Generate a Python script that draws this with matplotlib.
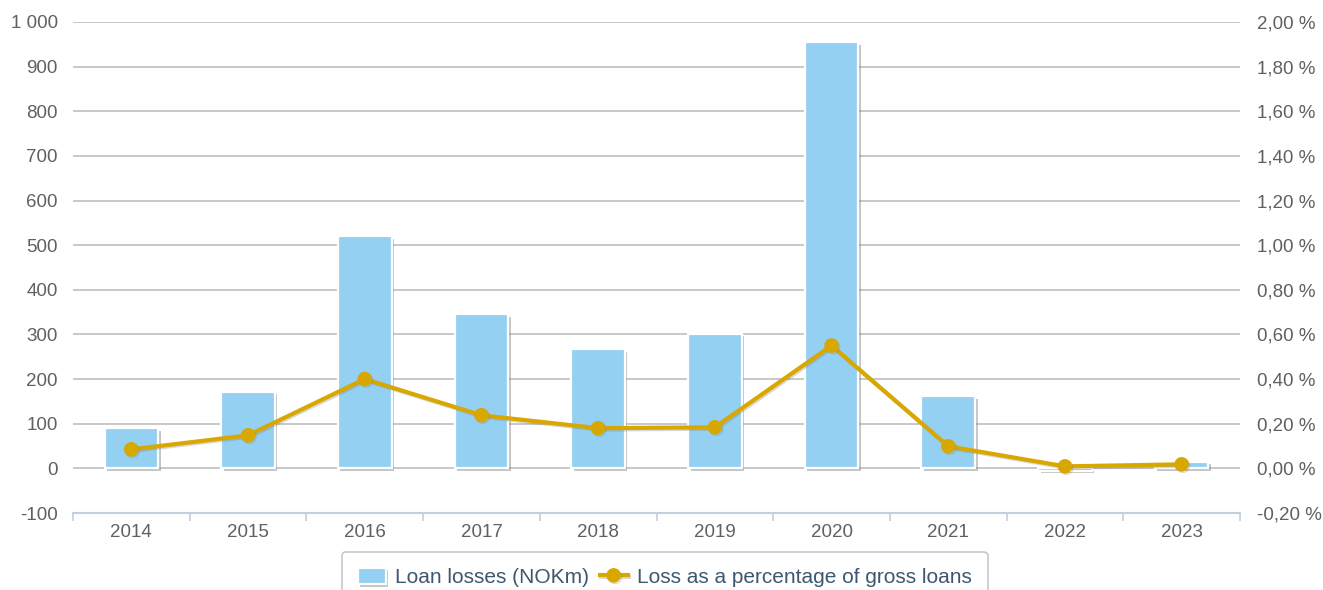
import matplotlib
matplotlib.use("Agg")
import matplotlib.pyplot as plt
import matplotlib.patheffects as pe
from matplotlib.ticker import FixedLocator, FuncFormatter
import numpy as np

plt.rcParams['font.family'] = ['Liberation Sans', 'DejaVu Sans']

# Loan losses per year and as a share of gross loans
years = ['2014', '2015', '2016', '2017', '2018', '2019', '2020', '2021', '2022', '2023']
loan_losses = [90, 172, 520, 345, 267, 302, 955, 162, -5, 15]
loss_pct = [0.085, 0.148, 0.40, 0.238, 0.18, 0.184, 0.55, 0.099, 0.009, 0.018]

bar_color = '#93d0f2'
line_color = '#d9a800'
grid_color = '#c4c4c4'
axis_color = '#c0d0e0'
label_color = '#606060'

fig = plt.figure(figsize=(13.23, 5.90), dpi=100)
ax = fig.add_axes([73 / 1323, 1 - 513 / 590, (1240 - 73) / 1323, (513 - 22) / 590])
x = np.arange(len(years))

# Bars with white outline and a soft drop shadow
bars = ax.bar(x, loan_losses, width=0.46, color=bar_color, edgecolor='white',
              linewidth=1.6, zorder=3, label='Loan losses (NOKm)')
for b in bars:
    b.set_path_effects([pe.SimplePatchShadow(offset=(1.8, -1.8), shadow_rgbFace='#707070', alpha=0.4),
                        pe.Normal()])

ax.set_xlim(-0.5, len(years) - 0.5)
ax.set_ylim(-100, 1000)
ax.set_yticks(np.arange(-100, 1001, 100))
ax.yaxis.set_major_formatter(FuncFormatter(lambda v, p: f"{int(v):,}".replace(',', ' ')))
ax.grid(axis='y', color=grid_color, linewidth=1.3, zorder=0)
ax.set_axisbelow(True)

for s in ['top', 'left', 'right']:
    ax.spines[s].set_visible(False)
ax.spines['bottom'].set_color(axis_color)
ax.spines['bottom'].set_linewidth(1.5)

ax.set_xticks(x)
ax.set_xticklabels(years)
ax.xaxis.set_minor_locator(FixedLocator(np.arange(-0.5, len(years), 1.0)))
ax.tick_params(axis='x', which='major', length=0, pad=8, labelsize=13.5, labelcolor=label_color)
ax.tick_params(axis='x', which='minor', length=6, width=1.2, color=axis_color)
ax.tick_params(axis='y', length=0, pad=11, labelsize=13.5, labelcolor=label_color)

# Percentage line on the right-hand axis
ax2 = ax.twinx()
ax2.set_ylim(-0.2, 2.0)
ax2.set_yticks(np.arange(-0.2, 2.01, 0.2))
ax2.yaxis.set_major_formatter(FuncFormatter(lambda v, p: f"{v:.2f} %".replace('.', ',')))
ax2.tick_params(axis='y', length=0, pad=12, labelsize=13.5, labelcolor=label_color)
for s in ax2.spines.values():
    s.set_visible(False)
ax2.plot(x, loss_pct, color=line_color, linewidth=3, marker='o', markersize=9.5,
         label='Loss as a percentage of gross loans', zorder=4,
         path_effects=[pe.SimpleLineShadow(offset=(1, -1), shadow_color='#808080', alpha=0.3),
                       pe.Normal()])

handles = [bars, ax2.get_lines()[0]]
leg = fig.legend(handles, [h.get_label() for h in handles], loc='upper center',
                 bbox_to_anchor=(0.5025, 1 - 552 / 590), ncol=2, frameon=True,
                 fancybox=True, edgecolor='#c8c8c8', framealpha=1, fontsize=15,
                 handlelength=1.35, handleheight=0.85, handletextpad=0.45,
                 columnspacing=0.5, borderpad=0.75, borderaxespad=0,
                 labelcolor='#3e576f')
leg.get_frame().set_linewidth(1.2)

fig.savefig('out.png', dpi=100)
